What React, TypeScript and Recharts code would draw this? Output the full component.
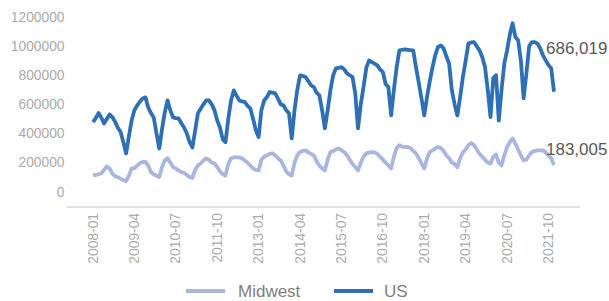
import React from "react";
import { LineChart, Line, XAxis, YAxis, Legend, LabelList } from "recharts";

const years: number[] = [2008, 2009, 2010, 2011, 2012, 2013, 2014, 2015, 2016, 2017, 2018, 2019, 2020, 2021];
const monthCodes: string[] = ["01", "02", "03", "04", "05", "06", "07", "08", "09", "10", "11", "12"];

const usValues: number[] = [
  478000, 505000, 540000, 510000, 469000, 500000, 531000, 513000, 480000, 440000, 410000, 340000,
  263000, 380000, 490000, 560000, 592000, 620000, 640000, 648000, 579000, 540000, 510000, 400000,
  297000, 430000, 545000, 627000, 560000, 510000, 505000, 503000, 470000, 441000, 400000, 340000,
  304000, 420000, 538000, 570000, 600000, 627000, 627000, 600000, 560000, 490000, 440000, 360000,
  341000, 500000, 627000, 696000, 660000, 627000, 620000, 616000, 590000, 572000, 500000, 420000,
  375000, 560000, 627000, 650000, 685000, 680000, 675000, 640000, 600000, 593000, 559000, 538000,
  366000, 560000, 700000, 799000, 795000, 788000, 760000, 730000, 719000, 680000, 662000, 560000,
  435000, 560000, 696000, 800000, 847000, 850000, 856000, 840000, 813000, 800000, 788000, 675000,
  435000, 600000, 719000, 850000, 902000, 890000, 880000, 868000, 840000, 822000, 740000, 719000,
  524000, 700000, 856000, 971000, 975000, 978000, 975000, 972000, 971000, 856000, 750000, 640000,
  524000, 650000, 760000, 856000, 940000, 994000, 1005000, 985000, 930000, 881000, 696000, 600000,
  524000, 650000, 788000, 900000, 1019000, 1025000, 1028000, 1000000, 971000, 925000, 856000, 700000,
  513000, 780000, 800000, 489000, 700000, 881000, 971000, 1080000, 1157000, 1063000, 1040000, 902000,
  641000, 813000, 1000000, 1028000, 1028000, 1017000, 985000, 937000, 902000, 870000, 847000, 686019,
];

const midwestValues: number[] = [
  112000, 115000, 120000, 125000, 150000, 174000, 160000, 125000, 105000, 100000, 90000, 80000,
  72000, 110000, 160000, 160000, 180000, 195000, 204000, 204000, 180000, 135000, 120000, 110000,
  100000, 170000, 215000, 229000, 200000, 169000, 160000, 146000, 135000, 130000, 115000, 100000,
  95000, 150000, 180000, 194000, 215000, 229000, 220000, 200000, 194000, 170000, 140000, 120000,
  112000, 190000, 229000, 235000, 238000, 235000, 229000, 215000, 200000, 180000, 160000, 150000,
  146000, 220000, 240000, 250000, 260000, 263000, 250000, 230000, 215000, 180000, 140000, 120000,
  112000, 200000, 250000, 272000, 280000, 284000, 270000, 260000, 250000, 210000, 180000, 160000,
  146000, 220000, 272000, 280000, 290000, 297000, 285000, 272000, 250000, 220000, 190000, 170000,
  146000, 200000, 240000, 263000, 268000, 272000, 270000, 260000, 240000, 220000, 200000, 180000,
  160000, 240000, 300000, 320000, 310000, 307000, 307000, 300000, 280000, 263000, 230000, 194000,
  160000, 230000, 272000, 284000, 297000, 307000, 300000, 280000, 250000, 230000, 200000, 190000,
  169000, 230000, 270000, 290000, 320000, 335000, 320000, 290000, 260000, 240000, 220000, 200000,
  194000, 240000, 255000, 200000, 181000, 250000, 307000, 340000, 366000, 330000, 290000, 250000,
  215000, 220000, 250000, 272000, 280000, 284000, 284000, 284000, 270000, 250000, 230000, 183005,
];

const yTicks: number[] = [0, 200000, 400000, 600000, 800000, 1000000, 1200000];

const months: string[] = [];
years.forEach((y) => monthCodes.forEach((m) => months.push(`${y}-${m}`)));

const data = months.map((month, i) => ({
  month,
  midwest: midwestValues[i],
  us: usValues[i],
}));

const US_COLOR = "#2e70b5";
const MW_COLOR = "#a9b7df";
const FONT = "'Liberation Sans', Arial, sans-serif";
const TICK_COLOR = "#ababab";

const XTick = (props: any) => {
  const { x, y, payload } = props;
  return (
    <text
      x={x}
      y={y}
      transform={`rotate(-90 ${x} ${y})`}
      textAnchor="end"
      dominantBaseline="central"
      fill={TICK_COLOR}
      fontSize={13.8}
      fontFamily={FONT}
    >
      {payload.value}
    </text>
  );
};

const fmt = (v: number) => Math.round(v).toLocaleString("en-US");

const makeEndLabel = (dy: number) => (props: any) => {
  const { x, y, value, index } = props;
  if (index !== data.length - 1) return null;
  return (
    <text
      x={x - 8}
      y={y + dy}
      dominantBaseline="central"
      fill="#595959"
      fontSize={17}
      fontFamily={FONT}
    >
      {fmt(value)}
    </text>
  );
};

const LegendContent = () => (
  <svg width={609} height={22} style={{ display: "block" }}>
    <line x1={186} x2={225} y1={11} y2={11} stroke={MW_COLOR} strokeWidth={4} />
    <text x={238} y={11} dominantBaseline="central" fill="#808080" fontSize={17} fontFamily={FONT}>
      Midwest
    </text>
    <line x1={334} x2={373} y1={11} y2={11} stroke={US_COLOR} strokeWidth={4} />
    <text x={384} y={11} dominantBaseline="central" fill="#808080" fontSize={17} fontFamily={FONT}>
      US
    </text>
  </svg>
);

export default function App() {
  return (
    <div style={{ position: "absolute", left: 0, top: 0, width: 609, height: 301, background: "#fff" }}>
      <LineChart
        width={609}
        height={301}
        data={data}
        margin={{ top: 17, right: 29, bottom: 12, left: 0 }}
      >
        <XAxis
          dataKey="month"
          interval={14}
          tick={<XTick />}
          tickLine={false}
          tickSize={6}
          tickMargin={0}
          height={60}
          padding={{ left: 26, right: 26 }}
          axisLine={{ stroke: "#d9d9d9", strokeWidth: 1.5 }}
        />
        <YAxis
          width={67}
          domain={[-105000, 1200000]}
          ticks={yTicks}
          allowDataOverflow
          axisLine={false}
          tickLine={false}
          tickSize={0}
          tickMargin={2.5}
          tick={{ fill: TICK_COLOR, fontSize: 13.8, fontFamily: FONT }}
        />
        <Legend
          verticalAlign="bottom"
          content={<LegendContent />}
          wrapperStyle={{ left: 0, top: 280, bottom: "auto", width: 609, height: 22 }}
        />
        <Line
          type="linear"
          dataKey="midwest"
          name="Midwest"
          stroke={MW_COLOR}
          strokeWidth={3.8}
          dot={false}
          strokeLinejoin="round"
          isAnimationActive={false}
        >
          <LabelList dataKey="midwest" content={makeEndLabel(-16)} />
        </Line>
        <Line
          type="linear"
          dataKey="us"
          name="US"
          stroke={US_COLOR}
          strokeWidth={3.8}
          dot={false}
          strokeLinejoin="round"
          isAnimationActive={false}
        >
          <LabelList dataKey="us" content={makeEndLabel(-43)} />
        </Line>
      </LineChart>
    </div>
  );
}
